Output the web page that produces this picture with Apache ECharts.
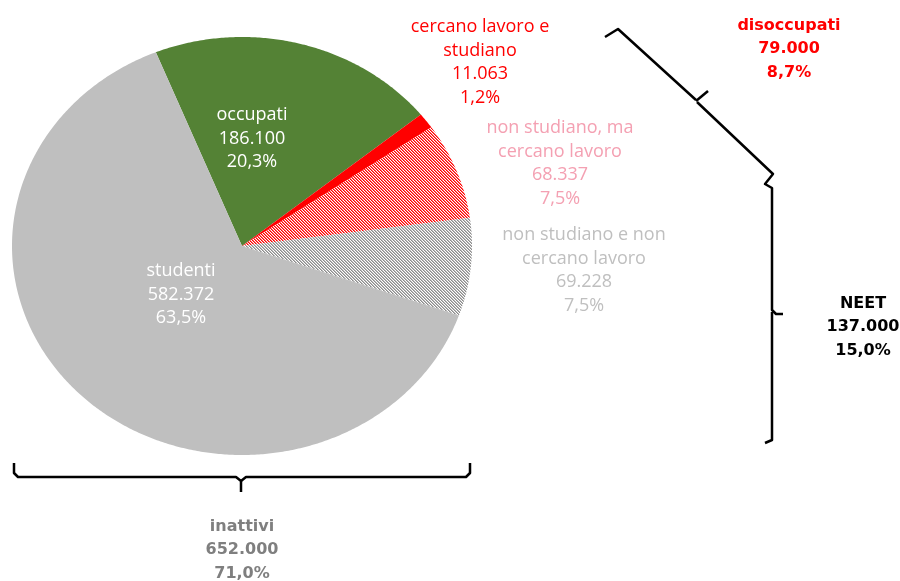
<!DOCTYPE html>
<html><head><meta charset="utf-8">
<script src="https://cdn.jsdelivr.net/npm/echarts@6/dist/echarts.min.js"></script>
<style>html,body{margin:0;padding:0;background:#fff}#c{width:900px;height:581px}</style>
</head><body><div id="c"></div>
<script>
// ---- data ----
const categories = ['occupati', 'cercano lavoro e studiano', 'non studiano, ma cercano lavoro', 'non studiano e non cercano lavoro', 'studenti'];
const categoryLabels = ['occupati', 'cercano lavoro e\nstudiano', 'non studiano, ma\ncercano lavoro', 'non studiano e non\ncercano lavoro', 'studenti'];
const values = [186100, 11063, 68337, 69228, 582372];
const percents = ['20,3%', '1,2%', '7,5%', '7,5%', '63,5%'];
const groupNames = ['disoccupati', 'NEET', 'inattivi'];
const groupValues = [79000, 137000, 652000];
const groupPercents = ['8,7%', '15,0%', '71,0%'];

// ---- styles ----
function stripes(color, alpha) {
  const c = document.createElement('canvas');
  c.width = 3; c.height = 3;
  const g = c.getContext('2d');
  g.fillStyle = '#ffffff'; g.fillRect(0, 0, 3, 3);
  for (let y = 0; y < 3; y++) for (let x = 0; x < 3; x++) {
    const m = ((x - y) % 3 + 3) % 3;
    if (m === 0) { g.fillStyle = color; g.fillRect(x, y, 1, 1); }
    else if (m === 1) { g.globalAlpha = alpha; g.fillStyle = color; g.fillRect(x, y, 1, 1); g.globalAlpha = 1; }
  }
  return { image: c, repeat: 'repeat' };
}
const fills = ['#548235', '#FF0000', stripes('#FF0000', 0.6), stripes('#8C8C8C', 0.6), '#BFBFBF'];
const labelColors = ['#FFFFFF', '#FF0000', '#F4A0B2', '#BFBFBF', '#FFFFFF'];
const labelPos = [[252, 103], [480, 15], [560, 116], [584, 223], [181, 259]];
const groupColors = ['#FF0000', '#000000', '#7F7F7F'];
const groupPos = [[789, 14], [863, 292], [242, 515]];

const CX = 242, CY = 246, RX = 230, RY = 209, START = 112;
const total = values.reduce((a, b) => a + b, 0);
const fmt = n => String(n).replace(/\B(?=(\d{3})+(?!\d))/g, '.');
const FONT = '"Open Sans", "Noto Sans", sans-serif';
const BFONT = '"DejaVu Sans", Verdana, sans-serif';

const graphics = [];
categories.forEach((c, i) => {
  graphics.push({
    type: 'text', z: 10,
    style: {
      text: categoryLabels[i] + '\n' + fmt(values[i]) + '\n' + percents[i],
      x: labelPos[i][0], y: labelPos[i][1], textAlign: 'center', textVerticalAlign: 'top',
      font: '18px ' + FONT, lineHeight: 23.6, fill: labelColors[i]
    }
  });
});
groupNames.forEach((g, i) => {
  graphics.push({
    type: 'text', z: 10,
    style: {
      text: g + '\n' + fmt(groupValues[i]) + '\n' + groupPercents[i],
      x: groupPos[i][0], y: groupPos[i][1], textAlign: 'center', textVerticalAlign: 'top',
      font: 'bold 16px ' + BFONT, lineHeight: 23.5, fill: groupColors[i]
    }
  });
});
const braceStyle = { stroke: '#000', lineWidth: 2.5, fill: null, lineJoin: 'round' };
const braces = [
  [[14, 463], [14, 473], [18, 477], [236, 477], [241, 481], [241, 492]],
  [[470, 463], [470, 473], [466, 477], [246, 477], [241, 481]],
  [[605, 37], [618, 29], [696, 100]],
  [[696, 101], [708, 91]],
  [[697, 102], [773, 174], [765, 184], [772, 188], [772, 310], [776, 314], [783, 314]],
  [[772, 312], [772, 440], [765, 443]]
];
braces.forEach(p => graphics.push({ type: 'polyline', shape: { points: p }, style: braceStyle }));

const chart = echarts.init(document.getElementById('c'));
chart.setOption({
  animation: false,
  graphic: graphics,
  series: [{
    type: 'custom',
    coordinateSystem: 'none',
    data: values.map((v, i) => ({ name: categories[i], value: v })),
    renderItem: function (params, api) {
      const i = params.dataIndex;
      let before = 0;
      for (let j = 0; j < i; j++) before += values[j];
      const a0 = START - before / total * 360;
      const a1 = a0 - api.value(0) / total * 360;
      const pts = [[CX, CY]];
      const n = Math.max(4, Math.ceil(Math.abs(a0 - a1) * 2));
      for (let k = 0; k <= n; k++) {
        const a = (a0 + (a1 - a0) * k / n) * Math.PI / 180;
        pts.push([CX + RX * Math.cos(a), CY - RY * Math.sin(a)]);
      }
      return { type: 'polygon', shape: { points: pts }, style: { fill: fills[i], stroke: null } };
    }
  }]
});
</script></body></html>
